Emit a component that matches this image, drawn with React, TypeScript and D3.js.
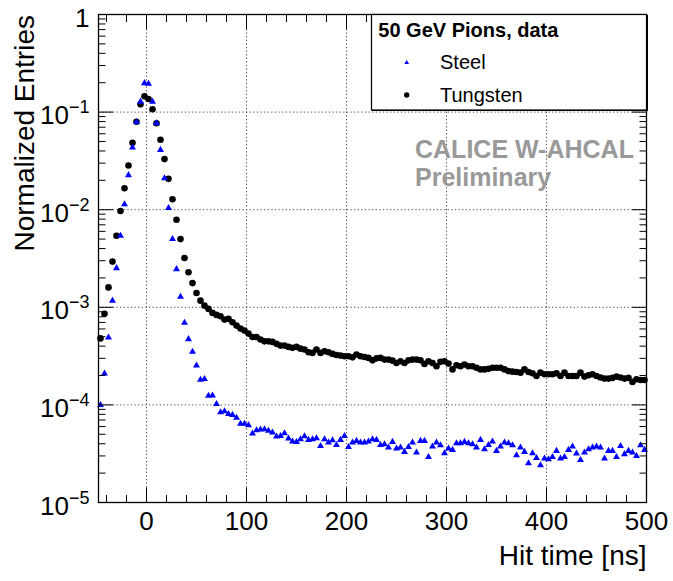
import React from "react";
import * as d3 from "d3";

// 4 ns histogram bins, centres from -46 ns to 498 ns
const binCenters: number[] = d3.range(-46, 500, 4);

const steel: number[] = [
  1.0e-4, 2.1e-4, 4.9e-4, 1.17e-3, 2.52e-3, 5.4e-3, 1.14e-2, 2.26e-2, 4.34e-2, 7.9e-2,
  0.128, 0.198, 0.195, 0.128, 7.7e-2, 4.1e-2, 2.1e-2, 1.04e-2, 5.0e-3, 2.46e-3,
  1.28e-3, 6.95e-4, 4.72e-4, 3.5e-4, 2.53e-4, 1.81e-4, 1.84e-4, 1.24e-4, 1.25e-4, 1.02e-4,
  8.4e-5, 8.6e-5, 8.05e-5, 7.9e-5, 7.4e-5, 6.4e-5, 6.4e-5, 6.2e-5, 5.1e-5, 5.5e-5,
  5.6e-5, 5.64e-5, 5.42e-5, 5.21e-5, 4.75e-5, 4.81e-5, 5.13e-5, 4.53e-5, 4.22e-5, 4.18e-5,
  4.45e-5, 4.78e-5, 4.38e-5, 4.45e-5, 4.56e-5, 3.8e-5, 4.45e-5, 4.12e-5, 4.35e-5, 3.89e-5,
  4.38e-5, 4.81e-5, 3.71e-5, 4.12e-5, 4.28e-5, 4.12e-5, 4.12e-5, 4.22e-5, 4.45e-5, 4.38e-5,
  3.89e-5, 3.96e-5, 3.66e-5, 4.18e-5, 3.57e-5,
  3.66e-5, 3.3e-5, 3.71e-5, 4.12e-5, 3.25e-5, 4.28e-5, 4.28e-5, 2.93e-5, 3.75e-5, 4.12e-5,
  3.86e-5, 3.2e-5, 3.57e-5, 3.46e-5, 4.05e-5, 4.05e-5, 4.18e-5, 4.05e-5, 3.96e-5, 3.66e-5,
  4.38e-5, 3.52e-5, 3.89e-5, 4.22e-5, 3.38e-5, 3.75e-5, 4.12e-5, 4.05e-5, 3.86e-5, 3.05e-5,
  3.66e-5, 3.3e-5, 2.53e-5, 3.2e-5, 2.86e-5, 2.41e-5, 2.82e-5, 2.78e-5, 2.93e-5, 3.38e-5,
  2.82e-5, 2.93e-5, 3.46e-5, 3.75e-5, 3.18e-5, 2.73e-5, 3.25e-5, 3.52e-5, 3.66e-5, 3.75e-5,
  3.66e-5, 2.82e-5, 3.38e-5, 3.38e-5, 2.93e-5, 3.8e-5, 3.13e-5, 3.38e-5, 3.25e-5, 3.0e-5,
  3.86e-5, 3.46e-5,
];

const tungsten: number[] = [
  4.8e-4, 8.6e-4, 1.6e-3, 2.94e-3, 5.4e-3, 9.7e-3, 1.66e-2, 2.84e-2, 4.85e-2, 7.96e-2,
  0.12, 0.145, 0.136, 0.107, 7.7e-2, 5.2e-2, 3.3e-2, 2.07e-2, 1.28e-2, 7.9e-3,
  5.0e-3, 3.2e-3, 2.29e-3, 1.77e-3, 1.4e-3, 1.17e-3,
  1.04e-3, 9.63e-4, 8.76e-4, 8.36e-4, 8.09e-4, 7.48e-4, 7.61e-4, 7.02e-4, 6.49e-4, 6.05e-4,
  5.77e-4, 5.38e-4, 4.97e-4, 4.97e-4, 4.67e-4, 4.48e-4, 4.48e-4, 4.42e-4, 4.22e-4, 4.05e-4,
  4.05e-4, 3.93e-4, 3.84e-4, 3.93e-4, 3.77e-4, 3.69e-4, 3.46e-4, 3.41e-4, 3.69e-4, 3.41e-4,
  3.54e-4, 3.46e-4, 3.33e-4, 3.25e-4, 3.2e-4, 3.15e-4, 3.15e-4, 3.07e-4, 3.28e-4, 3.15e-4,
  3.1e-4, 3.03e-4, 2.86e-4, 3.0e-4, 3.03e-4, 2.91e-4, 2.91e-4, 2.84e-4, 2.69e-4,
  2.8e-4, 2.69e-4, 2.86e-4, 2.91e-4, 2.91e-4, 2.86e-4, 2.63e-4, 2.8e-4, 2.69e-4, 2.49e-4,
  2.76e-4, 2.8e-4, 2.65e-4, 2.31e-4, 2.55e-4, 2.49e-4, 2.59e-4, 2.49e-4, 2.49e-4, 2.4e-4,
  2.31e-4, 2.31e-4, 2.34e-4, 2.4e-4, 2.4e-4, 2.4e-4, 2.31e-4, 2.22e-4, 2.19e-4, 2.17e-4,
  2.14e-4, 2.31e-4, 2.17e-4, 2.11e-4, 1.98e-4, 2.14e-4, 2.06e-4, 2.06e-4, 2.06e-4, 2.11e-4,
  1.98e-4, 2.14e-4, 1.98e-4, 1.98e-4, 1.98e-4, 2.14e-4, 1.95e-4, 2.01e-4, 2.06e-4, 1.98e-4,
  1.91e-4, 1.86e-4, 1.86e-4, 1.89e-4, 1.95e-4, 1.91e-4, 1.86e-4, 1.89e-4, 1.72e-4, 1.83e-4,
  1.8e-4, 1.8e-4,
];

const xDomain: [number, number] = [-48, 500];
const xMajorTicks = [0, 100, 200, 300, 400, 500];
const xMinorStep = 20;
const yExponents = [0, -1, -2, -3, -4, -5];
const legendHeader = "50 GeV Pions, data";
const seriesNames = ["Steel", "Tungsten"];
const xTitle = "Hit time [ns]";
const yTitle = "Normalized Entries";
const watermark = ["CALICE W-AHCAL", "Preliminary"];

const W = 673;
const H = 581;
const L = 98.5, R = 646.5, T = 14.5, B = 502.5;
const FONT = "'Liberation Sans', Arial, Helvetica, sans-serif";

export default function App() {
  const x = d3.scaleLinear().domain(xDomain).range([L, R]);
  const y = d3.scaleLog().domain([1e-5, 1]).range([B, T]);

  const tri = d3.symbol(d3.symbolTriangle, 21)() as string;
  const triSmall = d3.symbol(d3.symbolTriangle, 10)() as string;

  const minorX = d3.range(-40, 501, xMinorStep).filter((v) => !xMajorTicks.includes(v));
  const minorY: number[] = [];
  for (let e = -5; e < 0; e++) for (let m = 2; m <= 9; m++) minorY.push(m * Math.pow(10, e));

  const gridStyle = { stroke: "#444", strokeWidth: 1, strokeDasharray: "1.2,2.4" };

  return (
    <svg width={W} height={H} style={{ position: "absolute", left: 0, top: 0, background: "#fff" }} fontFamily={FONT}>
      <rect x={0} y={0} width={W} height={H} fill="#fff" />
      {/* grid */}
      {xMajorTicks.filter((v) => v < 500).map((v) => (
        <line key={"gx" + v} x1={x(v)} x2={x(v)} y1={T} y2={B} {...gridStyle} />
      ))}
      {yExponents.filter((e) => e < 0 && e > -5).map((e) => (
        <line key={"gy" + e} x1={L} x2={R} y1={y(Math.pow(10, e))} y2={y(Math.pow(10, e))} {...gridStyle} />
      ))}

      {/* watermark */}
      <text x={415} y={158} fontSize={25} fontWeight="bold" fill="#999">{watermark[0]}</text>
      <text x={415} y={186} fontSize={25} fontWeight="bold" fill="#999">{watermark[1]}</text>

      {/* data */}
      {tungsten.map((v, i) => (
        <circle key={"w" + i} cx={x(binCenters[i])} cy={y(v)} r={3.3} fill="#000" />
      ))}
      {steel.map((v, i) => (
        <path key={"s" + i} d={tri} transform={`translate(${x(binCenters[i])},${y(v)})`} fill="#0000ff" />
      ))}

      {/* frame */}
      <rect x={L} y={T} width={R - L} height={B - T} fill="none" stroke="#000" strokeWidth={1.3} />

      {/* x ticks bottom & top */}
      {xMajorTicks.map((v) => (
        <g key={"xt" + v}>
          <line x1={x(v)} x2={x(v)} y1={B} y2={B - 15} stroke="#000" />
          <line x1={x(v)} x2={x(v)} y1={T} y2={T + 15} stroke="#000" />
          <text x={x(v)} y={529.5} fontSize={26} textAnchor="middle" fill="#000">{v}</text>
        </g>
      ))}
      {minorX.map((v) => (
        <g key={"xm" + v}>
          <line x1={x(v)} x2={x(v)} y1={B} y2={B - 7.5} stroke="#000" />
          <line x1={x(v)} x2={x(v)} y1={T} y2={T + 7.5} stroke="#000" />
        </g>
      ))}

      {/* y ticks left & right */}
      {yExponents.map((e) => {
        const yy = y(Math.pow(10, e));
        return (
          <g key={"yt" + e}>
            <line x1={L} x2={L + 14.5} y1={yy} y2={yy} stroke="#000" />
            <line x1={R} x2={R - 14.5} y1={yy} y2={yy} stroke="#000" />
            {e === 0 ? (
              <text x={89.5} y={yy + 12} fontSize={26} textAnchor="end" fill="#000">1</text>
            ) : (
              <text x={89.5} y={yy + 12} fontSize={26} textAnchor="end" fill="#000">
                10
                <tspan fontSize={18} dy={-11}>{"\u2212" + Math.abs(e)}</tspan>
              </text>
            )}
          </g>
        );
      })}
      {minorY.map((v, i) => (
        <g key={"ym" + i}>
          <line x1={L} x2={L + 7} y1={y(v)} y2={y(v)} stroke="#000" />
          <line x1={R} x2={R - 7} y1={y(v)} y2={y(v)} stroke="#000" />
        </g>
      ))}

      {/* axis titles */}
      <text x={R} y={565} fontSize={28} textAnchor="end" fill="#000">{xTitle}</text>
      <text transform={`translate(34,${T + 0.5}) rotate(-90)`} fontSize={28} textAnchor="end" fill="#000">{yTitle}</text>

      {/* legend */}
      <rect x={371.5} y={14.5} width={275} height={95.5} fill="#fff" stroke="#000" strokeWidth={1.2} />
      <line x1={372} x2={647.5} y1={110.5} y2={110.5} stroke="#000" strokeWidth={1} />
      <line x1={647.5} x2={647.5} y1={15} y2={111} stroke="#000" strokeWidth={1} />
      <text x={378.3} y={36.7} fontSize={20} fontWeight="bold" fill="#000">{legendHeader}</text>
      <path d={triSmall} transform="translate(406.7,62.7)" fill="#0000ff" />
      <text x={440} y={69} fontSize={20} fill="#000">{seriesNames[0]}</text>
      <circle cx={406.7} cy={95} r={2.7} fill="#000" />
      <text x={440} y={101.5} fontSize={20} fill="#000">{seriesNames[1]}</text>
    </svg>
  );
}
